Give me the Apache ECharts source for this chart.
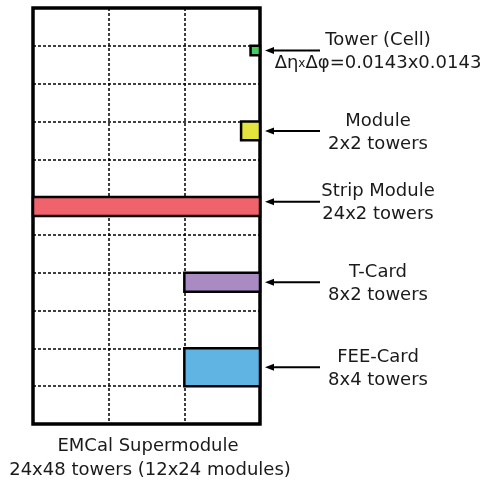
<!DOCTYPE html>
<html>
<head>
<meta charset="utf-8">
<script src="https://cdn.jsdelivr.net/npm/echarts@6/dist/echarts.min.js"></script>
<style>html,body{margin:0;padding:0;background:#fff}#c{width:482px;height:480px}</style>
</head>
<body>
<div id="c"></div>
<script>
// Layout of the supermodule sketch, in tower units (eta across, phi down)
const etaTowers = 24;
const phiTowers = 44;
const etaTick = 8;
const phiTick = 4;

const names = ['Tower (Cell)', 'Module', 'Strip Module', 'T-Card', 'FEE-Card'];
const subNames = ['Δη{s|x}Δφ=0.0143x0.0143', '2x2 towers', '24x2 towers', '8x2 towers', '8x4 towers'];
const etaStart = [23, 22, 0, 16, 16];
const etaEnd = [24, 24, 24, 24, 24];
const phiStart = [4, 12, 20, 28, 36];
const phiEnd = [5, 14, 22, 30, 40];
const colors = ['#44cc5c', '#e4e43e', '#f0626c', '#a98ac2', '#60b4e4'];
const arrowPhi = [4.5, 13, 20.5, 29, 38];

const title1 = 'EMCal Supermodule';
const title2 = '24x48 towers (12x24 modules)';

const FONT = 'DejaVu Sans';
const FS = 18;
const rectData = names.map((n, i) => [etaStart[i], etaEnd[i], phiStart[i], phiEnd[i], i]);
const annData = names.map((n, i) => [etaTowers, arrowPhi[i], i]);

const chart = echarts.init(document.getElementById('c'));
chart.setOption({
  animation: false,
  grid: { left: 33, right: 222, top: 8, bottom: 56, show: true, borderColor: '#000', borderWidth: 3.5, backgroundColor: '#fff' },
  xAxis: {
    type: 'value', min: 0, max: etaTowers, interval: etaTick,
    axisLine: { show: false }, axisTick: { show: false }, axisLabel: { show: false },
    splitLine: { show: true, lineStyle: { color: '#000', width: 1.5, type: [3, 2] } }
  },
  yAxis: {
    type: 'value', min: 0, max: phiTowers, interval: phiTick, inverse: true,
    axisLine: { show: false }, axisTick: { show: false }, axisLabel: { show: false },
    splitLine: { show: true, lineStyle: { color: '#000', width: 1.5, type: [3, 2] } }
  },
  series: [
    {
      type: 'custom',
      data: rectData,
      z: 3,
      renderItem: function (params, api) {
        const p0 = api.coord([api.value(0), api.value(2)]);
        const p1 = api.coord([api.value(1), api.value(3)]);
        const i = api.value(4);
        return {
          type: 'rect',
          shape: { x: p0[0], y: p0[1], width: p1[0] - p0[0], height: p1[1] - p0[1] },
          style: { fill: colors[i], stroke: '#000', lineWidth: 2.5 }
        };
      }
    },
    {
      type: 'custom',
      data: annData,
      clip: false,
      z: 4,
      renderItem: function (params, api) {
        const p = api.coord([api.value(0), api.value(1)]);
        const i = api.value(2);
        const x = p[0], y = p[1];
        const tipX = x + 5, endX = x + 60, cx = x + 118;
        return {
          type: 'group',
          children: [
            { type: 'line', shape: { x1: tipX + 6, y1: y, x2: endX, y2: y }, style: { stroke: '#000', lineWidth: 2 } },
            { type: 'polygon', shape: { points: [[tipX, y], [tipX + 9, y - 3.5], [tipX + 9, y + 3.5]] }, style: { fill: '#000' } },
            { type: 'text', x: cx, y: y - 10, style: { text: names[i], font: FS + 'px "' + FONT + '"', fill: '#1a1a1a', align: 'center', verticalAlign: 'middle' } },
            { type: 'text', x: cx, y: y + 13, style: { text: subNames[i], font: FS + 'px "' + FONT + '"', fill: '#1a1a1a', align: 'center', verticalAlign: 'middle',
              rich: { s: { fontSize: 12, fontFamily: FONT, fill: '#1a1a1a' } } } }
          ]
        };
      }
    }
  ],
  graphic: [
    { type: 'text', x: 148, y: 446, style: { text: title1, font: FS + 'px "' + FONT + '"', fill: '#1a1a1a', align: 'center', verticalAlign: 'middle' } },
    { type: 'text', x: 150, y: 470, style: { text: title2, font: FS + 'px "' + FONT + '"', fill: '#1a1a1a', align: 'center', verticalAlign: 'middle' } }
  ]
});
</script>
</body>
</html>
